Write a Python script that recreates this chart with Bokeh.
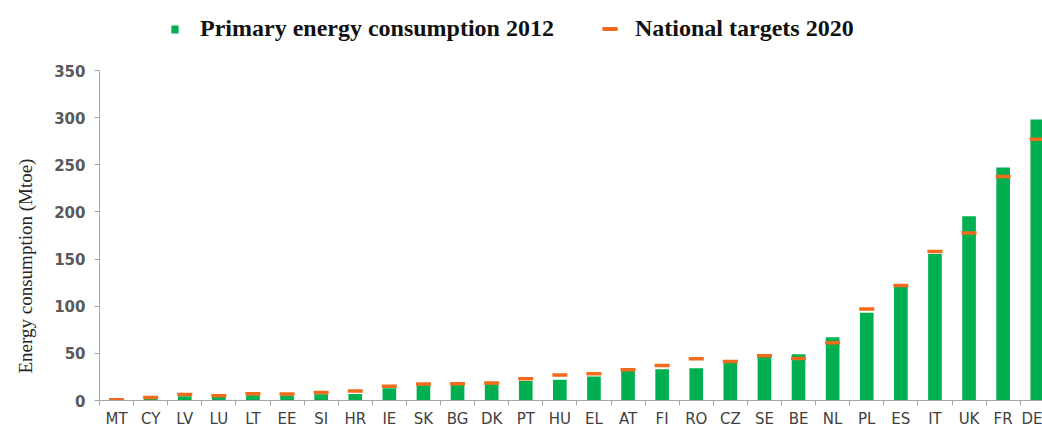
from bokeh.plotting import figure
from bokeh.models import (Range1d, FixedTicker, Legend, LegendItem,
                          ColumnDataSource, Title)
from bokeh.embed import file_html
from bokeh.resources import INLINE

# ---- data ----
countries = ["MT", "CY", "LV", "LU", "LT", "EE", "SI", "HR", "IE", "SK", "BG",
             "DK", "PT", "HU", "EL", "AT", "FI", "RO", "CZ", "SE", "BE", "NL",
             "PL", "ES", "IT", "UK", "FR", "DE"]
consumption_2012 = [0.7, 2.4, 4.5, 4.0, 5.6, 5.2, 6.7, 6.8, 13.0, 16.2, 17.2,
                    17.2, 20.8, 21.9, 25.4, 31.7, 33.1, 34.2, 40.5, 46.8, 49.0,
                    67.0, 93.0, 120.9, 155.4, 195.3, 247.1, 297.9]
targets_2020 = [0.8, 3.3, 6.3, 5.0, 7.2, 7.0, 8.6, 10.0, 15.0, 17.4, 17.8,
                18.5, 23.0, 27.0, 28.3, 32.6, 37.0, 44.3, 41.4, 47.4, 44.5,
                61.3, 97.0, 122.0, 158.0, 177.6, 237.6, 277.0]
y_ticks = [0, 50, 100, 150, 200, 250, 300, 350]

GREEN = "#00B050"
ORANGE = "#F26A1B"
AXIS = "#A6A6A6"

W, H = 1042, 430
LEFT = 99
BOTTOM = 29          # space taken by the x axis
FRAME_H = H - BOTTOM - 1
PX_PER_UNIT = 330 / 350.0
Y_END = FRAME_H / PX_PER_UNIT

idx = list(range(len(countries)))
source = ColumnDataSource(dict(x=idx, cat=countries,
                               cons=consumption_2012, tgt=targets_2020))

p = figure(width=W, height=H, output_backend="svg", toolbar_location=None,
           x_range=Range1d(-0.5, -0.5 + (W - LEFT) / 34.1),
           y_range=Range1d(0, Y_END),
           min_border_left=LEFT, min_border_right=0, min_border_top=0,
           min_border_bottom=BOTTOM)
p.outline_line_color = None
p.xgrid.grid_line_color = None
p.ygrid.grid_line_color = None
p.background_fill_color = "white"
p.border_fill_color = "white"

bars = p.vbar(x="x", top="cons", width=0.40, source=source,
              fill_color=GREEN, line_color=None)
dashes = p.scatter(x="x", y="tgt", marker="dash", size=15, line_color=ORANGE,
                   line_width=3.5, source=source)

# invisible renderer (NaN height) used only for the legend swatch of the targets
leg_src = ColumnDataSource(dict(x=[0], top=[float("nan")]))
orange_sw = p.vbar(x="x", top="top", width=0.4, source=leg_src,
                   fill_color=ORANGE, line_color=None)

# ---- axes ----
xa = p.xaxis[0]
xa.ticker = FixedTicker(ticks=idx, minor_ticks=[i - 0.5 for i in range(len(countries) + 1)])
xa.major_label_overrides = {i: c for i, c in enumerate(countries)}
xa.major_tick_line_color = None
xa.major_tick_out = 0
xa.major_tick_in = 0
xa.minor_tick_line_color = AXIS
xa.minor_tick_out = 5
xa.minor_tick_in = 0
xa.axis_line_color = AXIS
xa.major_label_text_font = "DejaVu Sans"
xa.major_label_text_font_size = "15px"
xa.major_label_text_color = "#404040"
xa.major_label_standoff = 4

ya = p.yaxis[0]
ya.ticker = FixedTicker(ticks=y_ticks)
ya.bounds = (0, 350)
ya.minor_tick_line_color = None
ya.major_tick_line_color = AXIS
ya.major_tick_out = 5
ya.major_tick_in = 0
ya.axis_line_color = AXIS
ya.major_label_text_font = "DejaVu Sans"
ya.major_label_text_font_style = "bold"
ya.major_label_text_font_size = "15px"
ya.major_label_text_color = "#595959"
ya.major_label_standoff = 9

# y axis title as a side Title so it can be shifted down like in the reference
ytitle = Title(text="Energy consumption (Mtoe)", align="left", offset=27,
               vertical_align="top",
               text_font="Liberation Serif", text_font_style="normal",
               text_font_size="19px", text_color="#262626", standoff=28)
p.add_layout(ytitle, "left")

# ---- legends (inside the tall frame, above the axis bounds) ----
common = dict(padding=0, margin=0, spacing=0, border_line_color=None,
              background_fill_alpha=0, label_text_font="Liberation Serif",
              label_text_font_style="bold", label_text_font_size="24px",
              label_text_color="#111111")
leg_y = FRAME_H - 42
leg1 = Legend(items=[LegendItem(label="Primary energy consumption 2012", renderers=[bars])],
              location=(170 - LEFT, leg_y), glyph_width=9, glyph_height=10,
              label_standoff=21, **common)
leg2 = Legend(items=[LegendItem(label="National targets 2020", renderers=[orange_sw])],
              location=(600 - LEFT, leg_y), glyph_width=19, glyph_height=5,
              label_standoff=16, **common)
p.add_layout(leg1)
p.add_layout(leg2)

open("out.html", "w").write(file_html(p, INLINE))
